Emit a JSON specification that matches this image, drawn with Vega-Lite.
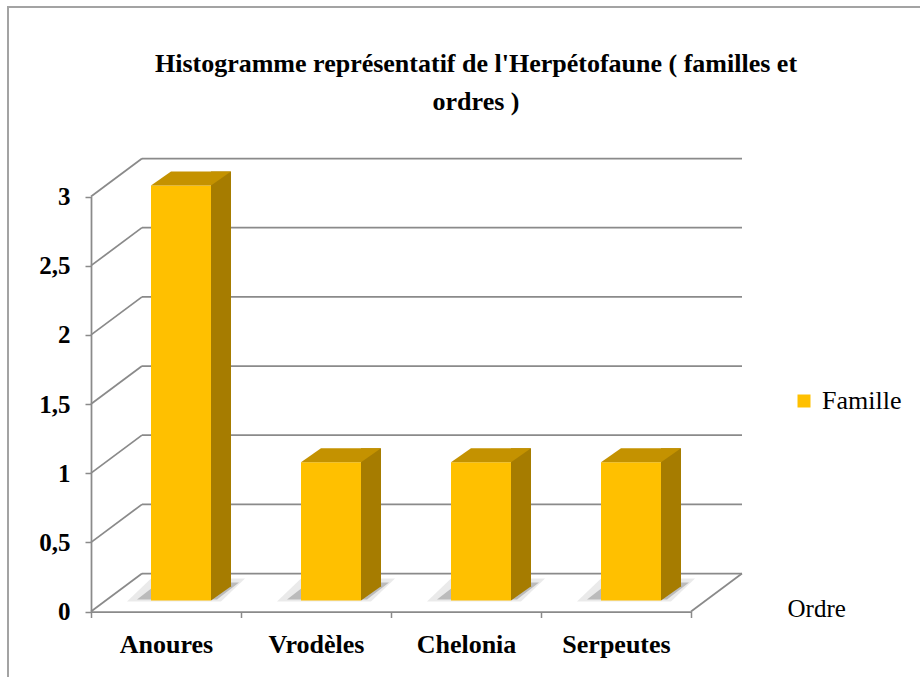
{
  "$schema": "https://vega.github.io/schema/vega-lite/v6.json",
  "width": 916,
  "height": 674,
  "autosize": {"type": "none"},
  "padding": {"left": 8, "top": 7, "right": -4, "bottom": -4},
  "background": "white",
  "config": {
    "view": {"stroke": "#A3A3A3", "strokeWidth": 2},
    "font": "Liberation Serif"
  },
  "title": {
    "text": ["Histogramme représentatif de l'Herpétofaune ( familles et", "ordres )"],
    "font": "Liberation Serif",
    "fontSize": 26,
    "fontWeight": "bold",
    "color": "black",
    "anchor": "middle",
    "frame": "group",
    "orient": "top",
    "offset": 0,
    "baseline": "alphabetic",
    "lineHeight": 38,
    "dx": 10,
    "dy": 129
  },
  "datasets": {
    "familles": [
      {"Ordre": "Anoures", "Famille": 3},
      {"Ordre": "Vrodèles", "Famille": 1},
      {"Ordre": "Chelonia", "Famille": 1},
      {"Ordre": "Serpeutes", "Famille": 1}
    ],
    "graduations": [
      {"v": 0}, {"v": 0.5}, {"v": 1}, {"v": 1.5}, {"v": 2}, {"v": 2.5}, {"v": 3}
    ]
  },
  "resolve": {"axis": {"x": "independent", "y": "independent"}},
  "layer": [
    {
      "data": {"name": "graduations"},
      "mark": {"type": "rule", "color": "#8A8A8A", "strokeWidth": 1.75, "xOffset": 51, "x2Offset": 51, "yOffset": -38},
      "encoding": {
        "x": {"datum": "Anoures", "type": "nominal", "bandPosition": 0, "axis": null,
              "scale": {"domain": ["Anoures", "Vrodèles", "Chelonia", "Serpeutes"], "range": [83, 683], "paddingInner": 0, "paddingOuter": 0}},
        "x2": {"datum": "Serpeutes", "bandPosition": 1},
        "y": {"field": "v", "type": "quantitative", "axis": null,
              "scale": {"domain": [0, 3], "range": [604.5, 189.5], "nice": false, "zero": false}}
      }
    },
    {
      "data": {"name": "graduations"},
      "mark": {"type": "rule", "color": "#8A8A8A", "strokeWidth": 1.75, "x2Offset": 51, "y2Offset": -38},
      "encoding": {
        "x": {"datum": "Anoures", "type": "nominal", "bandPosition": 0, "axis": null,
              "scale": {"domain": ["Anoures", "Vrodèles", "Chelonia", "Serpeutes"], "range": [83, 683], "paddingInner": 0, "paddingOuter": 0}},
        "x2": {"datum": "Anoures", "bandPosition": 0},
        "y": {"field": "v", "type": "quantitative", "axis": null,
              "scale": {"domain": [0, 3], "range": [604.5, 189.5], "nice": false, "zero": false}},
        "y2": {"field": "v"}
      }
    },
    {
      "data": {"name": "graduations"},
      "transform": [{"filter": "datum.v == 0"}],
      "mark": {"type": "rule", "color": "#8A8A8A", "strokeWidth": 1.75, "x2Offset": 51, "y2Offset": -38},
      "encoding": {
        "x": {"datum": "Serpeutes", "type": "nominal", "bandPosition": 1, "axis": null,
              "scale": {"domain": ["Anoures", "Vrodèles", "Chelonia", "Serpeutes"], "range": [83, 683], "paddingInner": 0, "paddingOuter": 0}},
        "x2": {"datum": "Serpeutes", "bandPosition": 1},
        "y": {"field": "v", "type": "quantitative", "axis": null,
              "scale": {"domain": [0, 3], "range": [604.5, 189.5], "nice": false, "zero": false}},
        "y2": {"field": "v"}
      }
    },
    {
      "data": {"name": "familles"},
      "mark": {"type": "point", "shape": "M-54,1L40,1L64,-22L-30,-22Z", "size": 4, "filled": true, "color": "#505050", "opacity": 0.12, "strokeWidth": 0, "xOffset": 15, "yOffset": -11},
      "encoding": {
        "x": {"field": "Ordre", "type": "nominal", "axis": null,
              "scale": {"domain": ["Anoures", "Vrodèles", "Chelonia", "Serpeutes"], "range": [83, 683], "paddingInner": 0, "paddingOuter": 0}},
        "y": {"datum": 0, "type": "quantitative", "axis": null,
              "scale": {"domain": [0, 3], "range": [604.5, 189.5], "nice": false, "zero": false}}
      }
    },
    {
      "data": {"name": "familles"},
      "mark": {"type": "point", "shape": "M-44,-1L36,-1L58,-18L-22,-18Z", "size": 4, "filled": true, "color": "#404040", "opacity": 0.28, "strokeWidth": 0, "xOffset": 15, "yOffset": -11},
      "encoding": {
        "x": {"field": "Ordre", "type": "nominal", "axis": null,
              "scale": {"domain": ["Anoures", "Vrodèles", "Chelonia", "Serpeutes"], "range": [83, 683], "paddingInner": 0, "paddingOuter": 0}},
        "y": {"datum": 0, "type": "quantitative", "axis": null,
              "scale": {"domain": [0, 3], "range": [604.5, 189.5], "nice": false, "zero": false}}
      }
    },
    {
      "data": {"name": "familles"},
      "mark": {"type": "bar", "width": 60, "xOffset": 15, "yOffset": -11, "y2Offset": -11},
      "encoding": {
        "x": {"field": "Ordre", "type": "nominal",
              "scale": {"domain": ["Anoures", "Vrodèles", "Chelonia", "Serpeutes"], "range": [83, 683], "paddingInner": 0, "paddingOuter": 0},
              "axis": {
                "orient": "bottom", "offset": -69.5, "labelAngle": 0,
                "domain": true, "domainColor": "#8A8A8A", "domainWidth": 1.75,
                "ticks": true, "tickBand": "extent", "tickSize": 6, "tickColor": "#8A8A8A", "tickWidth": 1.5,
                "grid": false,
                "labelFont": "Liberation Serif", "labelFontSize": 26, "labelFontWeight": "bold", "labelColor": "black", "labelPadding": 14,
                "title": "Ordre", "titleFont": "Liberation Serif", "titleFontSize": 25, "titleFontWeight": "normal", "titleColor": "black",
                "titleAlign": "left", "titleBaseline": "alphabetic", "titleX": 779, "titleY": 4.5, "titleAnchor": null
              }},
        "y": {"field": "Famille", "type": "quantitative",
              "scale": {"domain": [0, 3], "range": [604.5, 189.5], "nice": false, "zero": false},
              "axis": {
                "orient": "left", "offset": -83, "values": [0, 0.5, 1, 1.5, 2, 2.5, 3],
                "labelExpr": "replace(toString(datum.value), '.', ',')",
                "domain": true, "domainColor": "#8A8A8A", "domainWidth": 1.75,
                "ticks": true, "tickSize": 6, "tickColor": "#8A8A8A", "tickWidth": 1.5,
                "grid": false, "title": null,
                "labelFont": "Liberation Serif", "labelFontSize": 25, "labelFontWeight": "bold", "labelColor": "black", "labelPadding": 15
              }},
        "y2": {"datum": 0},
        "color": {"datum": "Famille", "type": "nominal",
                  "scale": {"range": ["#FFC000"]},
                  "legend": {
                    "orient": "none", "legendX": 783, "legendY": 381, "title": null, "padding": 0,
                    "symbolType": "square", "symbolSize": 169, "symbolStrokeWidth": 0, "symbolOpacity": 1,
                    "labelFont": "Liberation Serif", "labelFontSize": 26, "labelColor": "black", "labelOffset": 5
                  }}
      }
    },
    {
      "data": {"name": "familles"},
      "mark": {"type": "bar", "width": 20, "xOffset": 55, "yOffset": -25, "y2Offset": -25, "color": "#A67C00"},
      "encoding": {
        "x": {"field": "Ordre", "type": "nominal", "axis": null,
              "scale": {"domain": ["Anoures", "Vrodèles", "Chelonia", "Serpeutes"], "range": [83, 683], "paddingInner": 0, "paddingOuter": 0}},
        "y": {"field": "Famille", "type": "quantitative", "axis": null,
              "scale": {"domain": [0, 3], "range": [604.5, 189.5], "nice": false, "zero": false}},
        "y2": {"datum": 0}
      }
    },
    {
      "data": {"name": "familles"},
      "mark": {"type": "point", "shape": "M30,0L30,-14.5L50.5,-14.5Z", "size": 4, "filled": true, "color": "#A67C00", "opacity": 1, "strokeWidth": 0, "xOffset": 15, "yOffset": -11},
      "encoding": {
        "x": {"field": "Ordre", "type": "nominal", "axis": null,
              "scale": {"domain": ["Anoures", "Vrodèles", "Chelonia", "Serpeutes"], "range": [83, 683], "paddingInner": 0, "paddingOuter": 0}},
        "y": {"datum": 0, "type": "quantitative", "axis": null,
              "scale": {"domain": [0, 3], "range": [604.5, 189.5], "nice": false, "zero": false}}
      }
    },
    {
      "data": {"name": "familles"},
      "mark": {"type": "point", "shape": "M-30,0L30,0L50,-14L-10,-14Z", "size": 4, "filled": true, "color": "#C49200", "opacity": 1, "strokeWidth": 0, "xOffset": 15, "yOffset": -11},
      "encoding": {
        "x": {"field": "Ordre", "type": "nominal", "axis": null,
              "scale": {"domain": ["Anoures", "Vrodèles", "Chelonia", "Serpeutes"], "range": [83, 683], "paddingInner": 0, "paddingOuter": 0}},
        "y": {"field": "Famille", "type": "quantitative", "axis": null,
              "scale": {"domain": [0, 3], "range": [604.5, 189.5], "nice": false, "zero": false}}
      }
    }
  ]
}
